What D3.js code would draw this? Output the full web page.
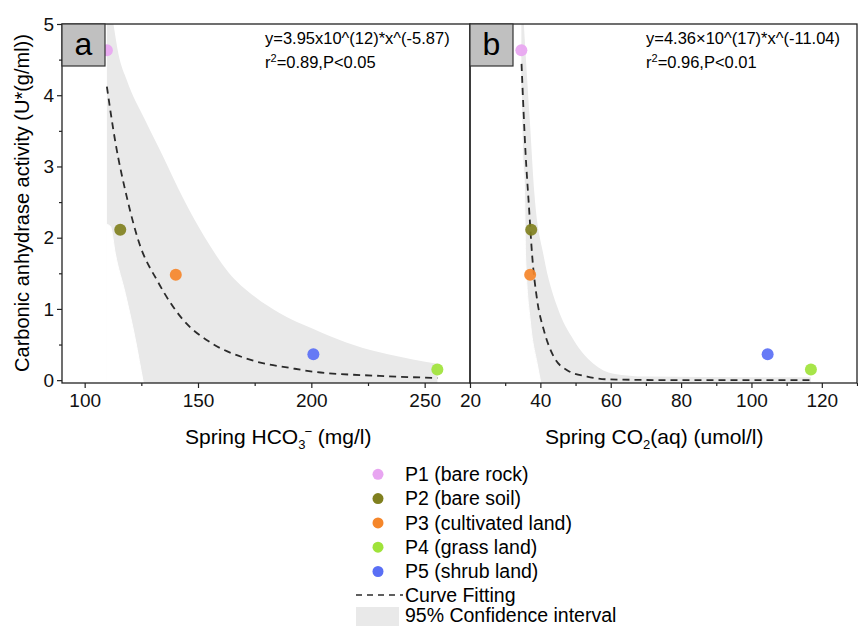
<!DOCTYPE html>
<html>
<head>
<meta charset="utf-8">
<script src="https://cdn.jsdelivr.net/npm/d3@7"></script>
<style>
  body { margin: 0; background: #fff; }
  svg { font-family: "Liberation Sans", Arial, sans-serif; }
</style>
</head>
<body>
<svg id="chart" width="858" height="626"></svg>
<script>
const sites = ['P1 (bare rock)', 'P2 (bare soil)', 'P3 (cultivated land)', 'P4 (grass land)', 'P5 (shrub land)'];
const siteColors = ['#e8a5f1', '#80801f', '#f5862a', '#9fe33a', '#5a6ff5'];
const hco3 = [109.8, 115.7, 140.2, 255.6, 200.9];
const co2aq = [34.6, 37.4, 37.1, 116.9, 104.6];
const activity = [4.63, 2.11, 1.48, 0.15, 0.365];

// fitted curves and 95% bands [x, y]
const fitA = [[109.8, 4.12], [113.5, 3.35], [118.6, 2.57], [123.7, 1.96], [132.5, 1.37], [142.8, 0.87],
  [156, 0.52], [170.7, 0.31], [192.7, 0.16], [200.7, 0.12], [230.1, 0.06], [255.6, 0.03]];
const upperA = [[109.8, 5.6], [112.7, 5.0], [114.9, 4.58], [118.6, 4.21], [126.7, 3.65], [134, 3.18],
  [143.5, 2.55], [153.1, 2.0], [163.3, 1.52], [175.1, 1.17], [186.1, 0.94], [200.7, 0.72],
  [215.4, 0.53], [230.1, 0.39], [244.8, 0.29], [255.6, 0.23]];
const lowerA = [[109.8, 2.19], [111.5, 2.15], [113.5, 1.78], [117.9, 1.22], [122.3, 0.58], [125.9, -0.04],
  [128, -0.4], [255.6, -0.4]];

const fitB = [[34.65, 4.44], [35.8, 3.18], [36.7, 2.48], [37.7, 1.73], [39.1, 1.12], [41, 0.7],
  [43.8, 0.33], [47.6, 0.14], [53.3, 0.05], [59.9, 0.01], [80, 0.0], [116.9, 0.0]];
const upperB = [[34.6, 5.6], [35.3, 5.0], [37.0, 3.65], [38.3, 2.62], [41.0, 1.73], [44.8, 1.03],
  [49.5, 0.56], [55.1, 0.23], [60.8, 0.09], [70, 0.05], [116.9, 0.04]];
const lowerB = [[34.6, 4.0], [34.9, 3.3], [35.5, 2.66], [35.8, 1.73], [37.2, 0.8], [39.1, 0.23],
  [40.2, -0.05], [42, -0.4], [116.9, -0.4]];

const yTicks = [0, 1, 2, 3, 4, 5];
const yMinor = [0.5, 1.5, 2.5, 3.5, 4.5];
const xTicksA = [100, 150, 200, 250];
const xMinorA = [125, 175, 225];
const xTicksB = [20, 40, 60, 80, 100, 120];
const xMinorB = [30, 50, 70, 90, 110, 130];

const svg = d3.select('#chart');
const plotTop = 24, plotBottom = 383;

const y = d3.scaleLinear().domain([-0.04, 5]).range([plotBottom, plotTop]);
const xA = d3.scaleLinear().domain([90, 270]).range([62, 470]);
const xB = d3.scaleLinear().domain([20, 130]).range([470, 857]);

function drawPanel(id, x, xs, fit, upper, lower, xTicks, xMinor, label, eq1, r2) {
  const [x0, x1] = x.range();
  const g = svg.append('g');

  g.append('clipPath').attr('id', 'clip-' + id)
    .append('rect').attr('x', x0).attr('y', plotTop).attr('width', x1 - x0).attr('height', plotBottom - plotTop);

  const plot = g.append('g').attr('clip-path', `url(#clip-${id})`);

  // confidence band: grey under the upper bound, white under the lower bound
  const area = d3.area().x(d => x(d[0])).y0(plotBottom + 10).y1(d => y(d[1])).curve(d3.curveMonotoneX);
  plot.append('path').datum(upper).attr('d', area).attr('fill', '#e9e9e9');
  plot.append('path').datum(lower).attr('d', area).attr('fill', '#fff')
    .attr('stroke', '#fff').attr('stroke-width', 1);

  const line = d3.line().x(d => x(d[0])).y(d => y(d[1])).curve(d3.curveMonotoneX);
  plot.append('path').datum(fit).attr('d', line)
    .attr('fill', 'none').attr('stroke', '#2b2b2b').attr('stroke-width', 1.8)
    .attr('stroke-dasharray', '7,5');

  plot.selectAll('circle').data(activity).enter().append('circle')
    .attr('cx', (d, i) => x(xs[i]))
    .attr('cy', d => y(d))
    .attr('r', 6)
    .attr('fill', (d, i) => siteColors[i])
    .attr('fill-opacity', 0.92);

  // frame
  g.append('rect').attr('x', x0).attr('y', plotTop).attr('width', x1 - x0).attr('height', plotBottom - plotTop)
    .attr('fill', 'none').attr('stroke', '#222').attr('stroke-width', 1.3);

  // x axis
  const ax = g.append('g').attr('transform', `translate(0,${plotBottom})`)
    .call(d3.axisBottom(x).tickValues(xTicks).tickSize(5).tickPadding(6));
  ax.select('.domain').remove();
  ax.selectAll('text').attr('font-size', 19).attr('font-family', null).attr('fill', '#111');
  const axm = g.append('g').attr('transform', `translate(0,${plotBottom})`)
    .call(d3.axisBottom(x).tickValues(xMinor).tickSize(3).tickFormat(''));
  axm.select('.domain').remove();
  g.selectAll('.tick line').attr('stroke', '#222').attr('stroke-width', 1.2);

  // panel label
  g.append('rect').attr('x', x0).attr('y', plotTop).attr('width', 43).attr('height', 42)
    .attr('fill', '#c0c0c0').attr('stroke', '#333').attr('stroke-width', 1.2);
  g.append('text').attr('x', x0 + 21.5).attr('y', plotTop + 31).attr('text-anchor', 'middle')
    .attr('font-size', 32).text(label);

  // equation
  g.append('text').attr('x', eq1.x).attr('y', 44).attr('font-size', 16.5).text(eq1.text);
  const t = g.append('text').attr('x', eq1.x).attr('y', 68).attr('font-size', 16.5);
  t.append('tspan').text('r');
  t.append('tspan').attr('font-size', 11).attr('dy', -6).text('2');
  t.append('tspan').attr('dy', 6).text(r2);
}

drawPanel('a', xA, hco3, fitA, upperA, lowerA, xTicksA, xMinorA, 'a',
  { x: 265, text: 'y=3.95x10^(12)*x^(-5.87)' }, '=0.89,P<0.05');
drawPanel('b', xB, co2aq, fitB, upperB, lowerB, xTicksB, xMinorB, 'b',
  { x: 646, text: 'y=4.36\u00d710^(17)*x^(-11.04)' }, '=0.96,P<0.01');

// y axis on panel a only
const ay = svg.append('g').attr('transform', 'translate(62,0)')
  .call(d3.axisLeft(y).tickValues(yTicks).tickFormat(d3.format('d')).tickSize(5).tickPadding(3));
ay.select('.domain').remove();
ay.selectAll('text').attr('font-size', 19).attr('font-family', null).attr('fill', '#111');
const aym = svg.append('g').attr('transform', 'translate(62,0)')
  .call(d3.axisLeft(y).tickValues(yMinor).tickSize(3).tickFormat(''));
aym.select('.domain').remove();
svg.selectAll('.tick line').attr('stroke', '#222').attr('stroke-width', 1.2);

// axis titles
svg.append('text').attr('transform', 'translate(29,203) rotate(-90)')
  .attr('text-anchor', 'middle').attr('font-size', 20)
  .text('Carbonic anhydrase activity (U*(g/ml))');

const tA = svg.append('text').attr('x', 185).attr('y', 444).attr('font-size', 21);
tA.append('tspan').text('Spring HCO');
tA.append('tspan').attr('font-size', 13).attr('dy', 5).text('3');
tA.append('tspan').attr('font-size', 13).attr('dx', -1).attr('dy', -13).text('\u2212');
tA.append('tspan').attr('dy', 8).text('\u00a0(mg/l)');

const tB = svg.append('text').attr('x', 545).attr('y', 444).attr('font-size', 21);
tB.append('tspan').text('Spring CO');
tB.append('tspan').attr('font-size', 13).attr('dy', 5).text('2');
tB.append('tspan').attr('dy', -5).text('(aq) (umol/l)');

// legend
const legend = svg.append('g');
const rowY = d3.scaleLinear().domain([0, 1]).range([474.3, 498.6]);
sites.forEach((s, i) => {
  legend.append('circle').attr('cx', 378).attr('cy', rowY(i)).attr('r', 5.5).attr('fill', siteColors[i]);
  legend.append('text').attr('x', 405).attr('y', rowY(i)).attr('dy', '0.35em')
    .attr('font-size', 19.5).text(s);
});
legend.append('line').attr('x1', 356).attr('x2', 403).attr('y1', 595).attr('y2', 595)
  .attr('stroke', '#2b2b2b').attr('stroke-width', 1.6).attr('stroke-dasharray', '6,5');
legend.append('text').attr('x', 405).attr('y', 595).attr('dy', '0.35em')
  .attr('font-size', 19.5).text('Curve Fitting');
legend.append('rect').attr('x', 356).attr('y', 607).attr('width', 43).attr('height', 20)
  .attr('fill', '#e9e9e9');
legend.append('text').attr('x', 405).attr('y', 615).attr('dy', '0.35em')
  .attr('font-size', 19.5).text('95% Confidence interval');
</script>
</body>
</html>
